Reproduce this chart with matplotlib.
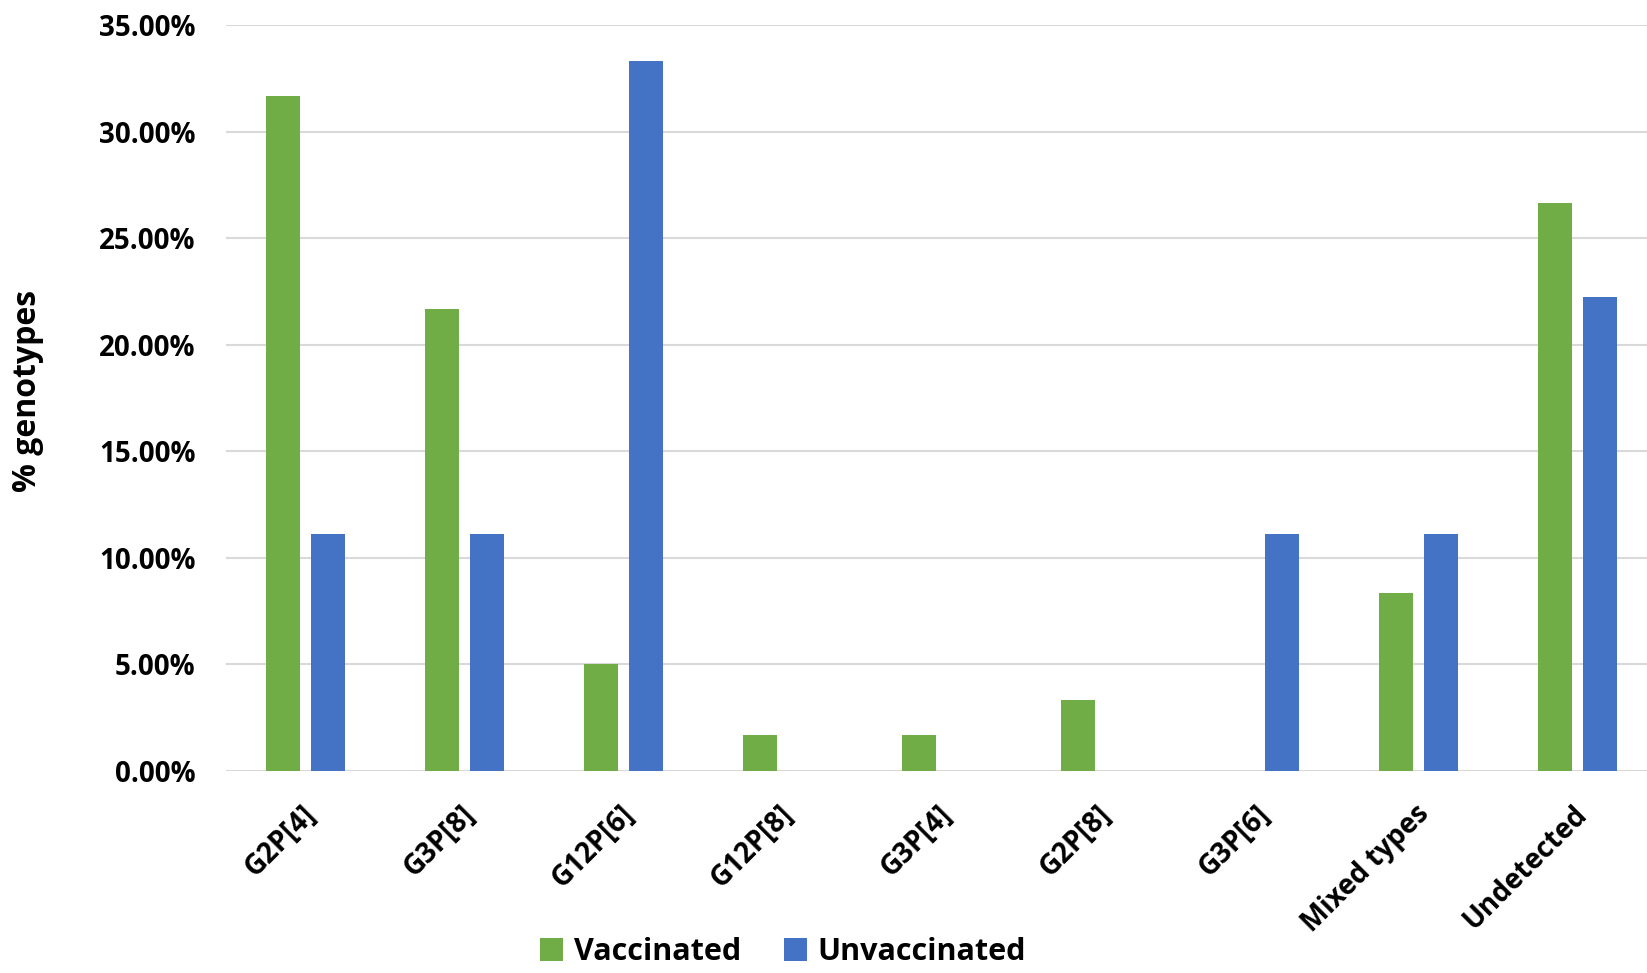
import numpy as np
import matplotlib.pyplot as plt
import matplotlib.transforms as mtransforms
from matplotlib.ticker import FuncFormatter

# genotype share per group (percent)
genotypes = ['G2P[4]', 'G3P[8]', 'G12P[6]', 'G12P[8]', 'G3P[4]', 'G2P[8]',
             'G3P[6]', 'Mixed types', 'Undetected']
vaccinated = [31.67, 21.67, 5.00, 1.67, 1.67, 3.33, 0.0, 8.33, 26.67]
unvaccinated = [11.11, 11.11, 33.33, 0.0, 0.0, 0.0, 11.11, 11.11, 22.22]

plt.rcParams['font.family'] = ['Open Sans', 'DejaVu Sans']
plt.rcParams['font.weight'] = 'bold'

fig = plt.figure(figsize=(16.47, 9.73), dpi=100)
ax = fig.add_axes([226/1647, 202/973, 1431/1647, 746/973])

x = np.arange(len(genotypes))
w = 0.22
off = 0.1415
ax.bar(x - off, np.array(vaccinated)/100, w, color='#70AD47', label='Vaccinated', zorder=3)
ax.bar(x + off, np.array(unvaccinated)/100, w, color='#4472C4', label='Unvaccinated', zorder=3)

ax.set_xlim(-0.5, len(genotypes) - 0.5)
ax.set_ylim(0, 0.35)
ax.set_yticks(np.arange(0, 0.351, 0.05))
ax.yaxis.set_major_formatter(FuncFormatter(lambda v, p: f'{v*100:.2f}%'))
ax.grid(axis='y', color='#D9D9D9', linewidth=1.5, zorder=0)
for s in ax.spines.values():
    s.set_visible(False)
ax.tick_params(length=0)
ax.tick_params(axis='y', pad=22, labelsize=20)
ax.tick_params(axis='x', pad=28, labelsize=20)

ax.set_xticks(x)
ax.set_xticklabels(genotypes, rotation=45, ha='right', va='center',
                   rotation_mode='anchor', fontweight='bold')
shift = mtransforms.ScaledTranslation(6/100, 0, fig.dpi_scale_trans)
for lab in ax.get_xticklabels():
    lab.set_transform(lab.get_transform() + shift)
for lab in ax.get_yticklabels():
    lab.set_fontweight('bold')

ax.set_ylabel('% genotypes', fontsize=23, fontweight='bold')
ax.yaxis.set_label_coords(-0.127, 0.51)

fig.legend(loc='center', bbox_to_anchor=(783/1647, 1 - 952/973), ncol=2,
           frameon=False, prop={'size': 22, 'weight': 'bold'},
           handlelength=0.75, handleheight=0.75, handletextpad=0.35,
           columnspacing=1.4, borderpad=0.1)

fig.savefig('out.png', dpi=100)
